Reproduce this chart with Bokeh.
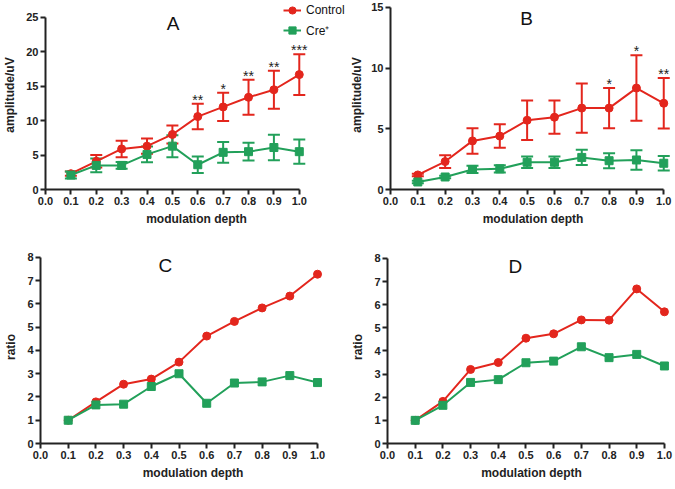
from bokeh.plotting import figure
from bokeh.models import (ColumnDataSource, Whisker, TeeHead, FixedTicker, NumeralTickFormatter,
                          Legend, LegendItem, Label, Range1d)
from bokeh.layouts import row, column
from bokeh.core.properties import value
from bokeh.embed import file_html
from bokeh.resources import INLINE

# ---------------- data ----------------
depth = [0.1, 0.2, 0.3, 0.4, 0.5, 0.6, 0.7, 0.8, 0.9, 1.0]
x_ticks = [0.0, 0.1, 0.2, 0.3, 0.4, 0.5, 0.6, 0.7, 0.8, 0.9, 1.0]

a_control = [2.3, 4.1, 5.9, 6.3, 8.0, 10.6, 12.0, 13.4, 14.5, 16.7]
a_control_err = [0.3, 0.9, 1.2, 1.1, 1.3, 1.85, 2.05, 2.55, 2.75, 2.95]
a_cre = [2.1, 3.5, 3.5, 5.1, 6.3, 3.6, 5.4, 5.5, 6.1, 5.5]
a_cre_err = [0.5, 1.0, 0.5, 1.15, 1.6, 1.2, 1.5, 1.3, 1.85, 1.75]
a_sig_x = [0.6, 0.7, 0.8, 0.9, 1.0]
a_sig = ["**", "*", "**", "**", "***"]
a_yticks = [0, 5, 10, 15, 20, 25]

b_control = [1.2, 2.3, 4.0, 4.4, 5.7, 5.95, 6.7, 6.7, 8.35, 7.1]
b_control_err = [0.1, 0.52, 1.05, 0.97, 1.63, 1.37, 2.03, 1.65, 2.7, 2.08]
b_cre = [0.62, 1.03, 1.65, 1.7, 2.24, 2.24, 2.64, 2.37, 2.43, 2.16]
b_cre_err = [0.1, 0.1, 0.3, 0.3, 0.48, 0.48, 0.63, 0.62, 0.8, 0.6]
b_sig_x = [0.8, 0.9, 1.0]
b_sig = ["*", "*", "**"]
b_yticks = [0, 5, 10, 15]

c_control = [1.0, 1.79, 2.55, 2.77, 3.5, 4.62, 5.25, 5.83, 6.34, 7.28]
c_cre = [1.0, 1.66, 1.69, 2.45, 3.0, 1.73, 2.6, 2.65, 2.92, 2.62]

d_control = [1.0, 1.82, 3.2, 3.5, 4.55, 4.74, 5.34, 5.33, 6.68, 5.69]
d_cre = [1.0, 1.65, 2.64, 2.76, 3.49, 3.56, 4.18, 3.71, 3.85, 3.35]
ratio_yticks = [0, 1, 2, 3, 4, 5, 6, 7, 8]

RED = "#e3261d"
GREEN = "#22a05a"
AX = "#222222"
FONT = "Liberation Sans"


def make_fig(width, height, xend, ybounds, yend, yticks, ylabel, borders, ylab_standoff=6):
    left, right, top, bottom = borders
    p = figure(width=width, height=height, output_backend="svg", toolbar_location=None,
               x_range=Range1d(0, xend), y_range=Range1d(0, yend),
               min_border_left=left, min_border_right=right,
               min_border_top=top, min_border_bottom=bottom)
    p.grid.visible = False
    p.outline_line_color = None
    p.border_fill_color = None
    p.background_fill_color = None
    for ax in (p.xaxis[0], p.yaxis[0]):
        ax.axis_line_width = 2
        ax.axis_line_color = AX
        ax.major_tick_line_width = 2
        ax.major_tick_line_color = AX
        ax.major_tick_out = 5
        ax.major_tick_in = 0
        ax.minor_tick_line_color = None
        ax.major_label_text_font = FONT
        ax.major_label_text_font_style = "bold"
        ax.major_label_text_font_size = "11px"
        ax.major_label_text_color = AX
        ax.major_label_standoff = 2
        ax.axis_label_text_font = FONT
        ax.axis_label_text_font_style = "bold"
        ax.axis_label_text_font_size = "12px"
        ax.axis_label_text_color = AX
    p.xaxis.axis_label_standoff = 4
    p.yaxis.axis_label_standoff = ylab_standoff
    p.xaxis.ticker = FixedTicker(ticks=x_ticks)
    p.xaxis.formatter = NumeralTickFormatter(format="0.0")
    p.xaxis.bounds = (0, 1)
    p.xaxis.axis_label = "modulation depth"
    p.yaxis.ticker = FixedTicker(ticks=yticks)
    p.yaxis.bounds = ybounds
    p.yaxis.axis_label = ylabel
    return p


def add_series(p, ys, color, marker, errs=None):
    src = dict(x=depth, y=ys)
    if errs is not None:
        src["lo"] = [m - e for m, e in zip(ys, errs)]
        src["hi"] = [m + e for m, e in zip(ys, errs)]
    source = ColumnDataSource(src)
    if errs is not None:
        w = Whisker(source=source, base="x", lower="lo", upper="hi",
                    line_color=color, line_width=2,
                    upper_head=TeeHead(size=12, line_color=color, line_width=2),
                    lower_head=TeeHead(size=12, line_color=color, line_width=2))
        p.add_layout(w)
    ln = p.line("x", "y", source=source, line_color=color, line_width=2)
    sc = p.scatter("x", "y", source=source, marker=marker, size=8,
                   fill_color=color, line_color=color)
    return ln, sc


def add_stars(p, xs, labels, means, errs):
    tops = []
    for x in xs:
        i = depth.index(x)
        tops.append(means[i] + errs[i])
    src = ColumnDataSource(dict(x=xs, y=tops, t=labels))
    p.text("x", "y", text="t", source=src, text_align="center", text_baseline="bottom",
           text_font=value(FONT), text_font_size="14px", text_color=AX, y_offset=4)


def add_letter(p, x, y, letter):
    p.add_layout(Label(x=x, y=y, text=letter, text_font=FONT, text_font_size="19px",
                       text_align="center", text_baseline="middle", text_color="#111111"))


# ---------------- panel A ----------------
pa = make_fig(347, 240, 1.19, (0, 25), 27.47, a_yticks, "amplitude/uV", (41, 0, 0, 51))
ra = add_series(pa, a_control, RED, "circle", a_control_err)
ga = add_series(pa, a_cre, GREEN, "square", a_cre_err)
add_stars(pa, a_sig_x, a_sig, a_control, a_control_err)
add_letter(pa, 0.503, 24.1, "A")
legend = Legend(items=[LegendItem(label="Control", renderers=list(ra)),
                       LegendItem(label="Cre\u207a", renderers=list(ga))],
                location=(238, 149), padding=0, margin=0, spacing=0,
                glyph_width=18, glyph_height=20, label_standoff=5,
                label_text_font=FONT, label_text_font_size="12px", label_text_color="#111111",
                border_line_color=None, background_fill_alpha=0)
pa.add_layout(legend, "center")

# ---------------- panel B ----------------
pb = make_fig(328, 240, 1.043, (0, 15), 15.56, b_yticks, "amplitude/uV", (37, 0, 0, 47),
              ylab_standoff=4)
add_series(pb, b_control, RED, "circle", b_control_err)
add_series(pb, b_cre, GREEN, "square", b_cre_err)
add_stars(pb, b_sig_x, b_sig, b_control, b_control_err)
add_letter(pb, 0.498, 14.1, "B")

# ---------------- panel C ----------------
pc = make_fig(345, 249, 1.101, (0, 8), 8.3, ratio_yticks, "ratio", (40, 0, 10, 46))
add_series(pc, c_control, RED, "circle")
add_series(pc, c_cre, GREEN, "square")
add_letter(pc, 0.451, 7.66, "C")

# ---------------- panel D ----------------
pd_ = make_fig(330, 249, 1.04, (0, 8), 8.34, ratio_yticks, "ratio", (42, 0, 10, 45))
add_series(pd_, d_control, RED, "circle")
add_series(pd_, d_cre, GREEN, "square")
add_letter(pd_, 0.462, 7.66, "D")

layout = column(row(pa, pb), row(pc, pd_))
open("out.html", "w").write(file_html(layout, INLINE))
